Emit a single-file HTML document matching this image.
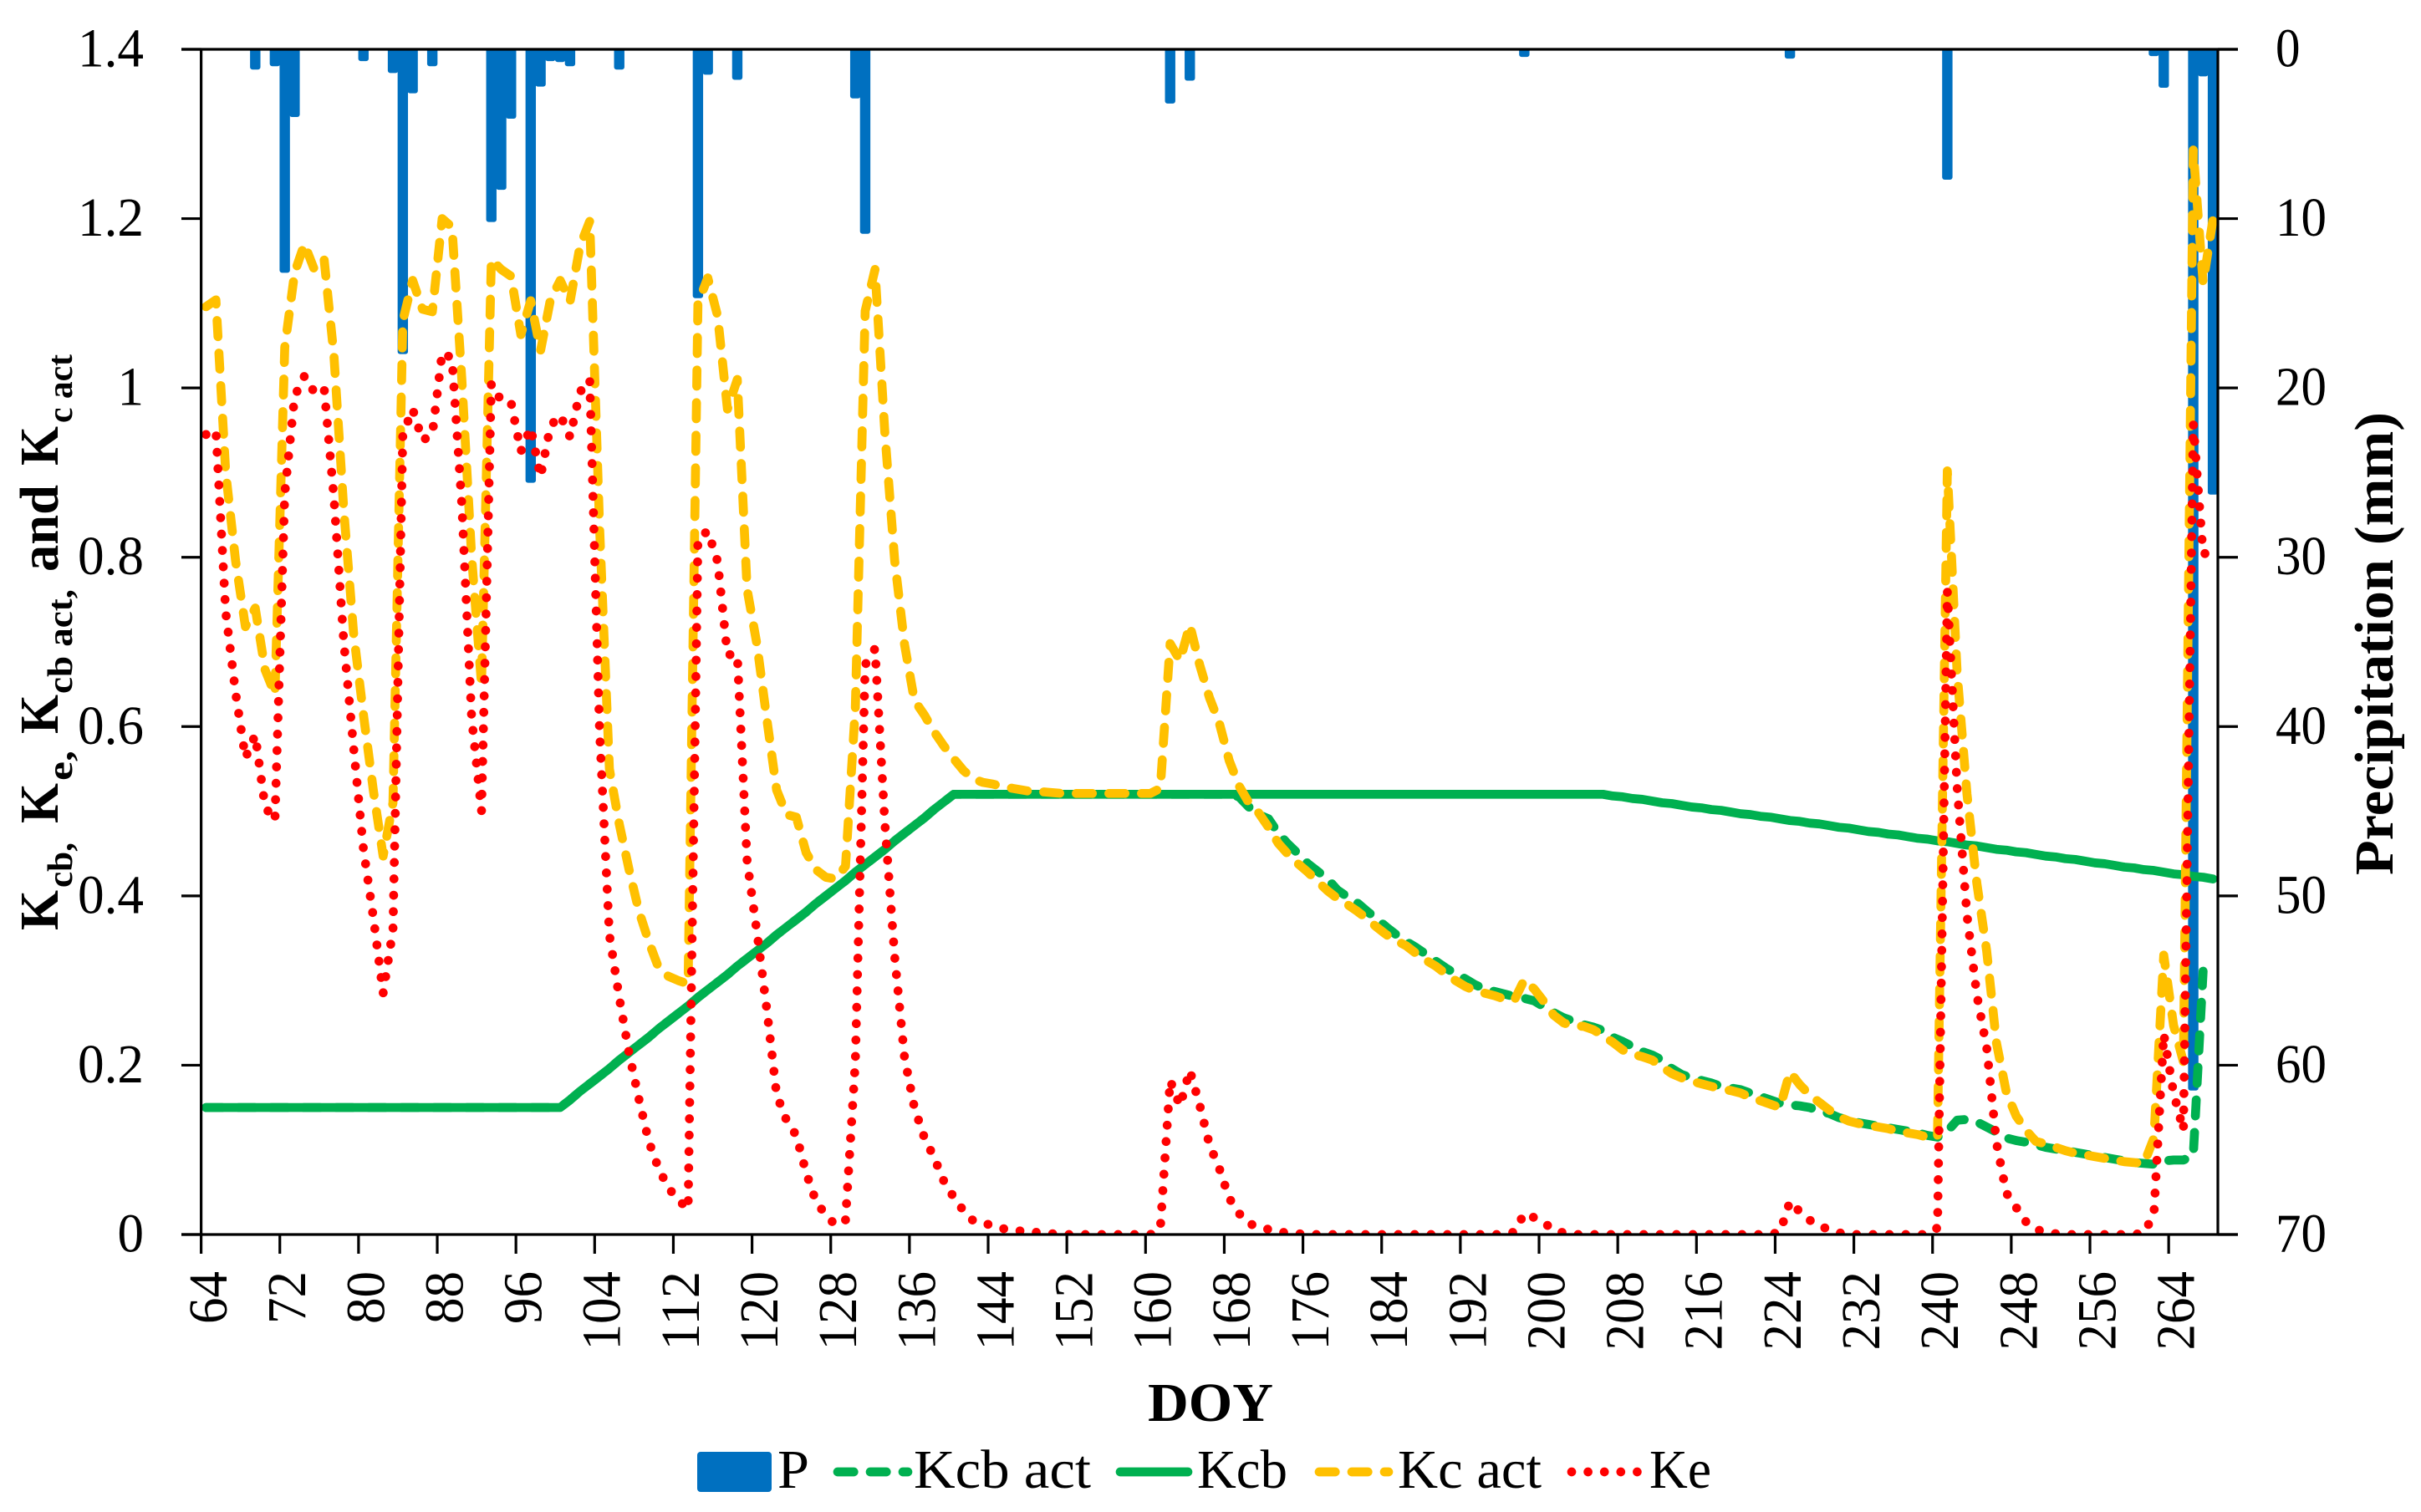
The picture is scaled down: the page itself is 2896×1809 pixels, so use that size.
<!DOCTYPE html>
<html>
<head>
<meta charset="utf-8">
<title>Kcb, Ke, Kcb act, Kc act and precipitation by DOY</title>
<style>
html,body{margin:0;padding:0;background:#fff;}
svg{display:block;}
text{font-family:"Liberation Serif",serif;fill:#000;}
</style>
</head>
<body>
<svg id="chart" xmlns="http://www.w3.org/2000/svg" width="2896" height="1809" viewBox="0 0 2896 1809">
  <rect x="0" y="0" width="2896" height="1809" fill="#fff"/>
  <defs>
    <clipPath id="plot-clip"><rect x="240" y="59" width="2414" height="1418"/></clipPath>
  </defs>
  <g id="bars" clip-path="url(#plot-clip)"></g>
  <g id="lines" clip-path="url(#plot-clip)"></g>
  <g id="axes"></g>

  <g font-weight="bold">
    <text transform="translate(69,1113) rotate(-90)" font-size="66" textLength="48" lengthAdjust="spacingAndGlyphs">K</text>
    <text transform="translate(86,1062) rotate(-90)" font-size="42" textLength="54" lengthAdjust="spacingAndGlyphs">cb,</text>
    <text transform="translate(69,985) rotate(-90)" font-size="66" textLength="48" lengthAdjust="spacingAndGlyphs">K</text>
    <text transform="translate(86,934) rotate(-90)" font-size="42" textLength="36" lengthAdjust="spacingAndGlyphs">e,</text>
    <text transform="translate(69,878) rotate(-90)" font-size="66" textLength="47" lengthAdjust="spacingAndGlyphs">K</text>
    <text transform="translate(86,830) rotate(-90)" font-size="42" textLength="125" lengthAdjust="spacingAndGlyphs">cb act,</text>
    <text transform="translate(69,684) rotate(-90)" font-size="66" textLength="104" lengthAdjust="spacingAndGlyphs">and</text>
    <text transform="translate(69,557) rotate(-90)" font-size="66" textLength="47" lengthAdjust="spacingAndGlyphs">K</text>
    <text transform="translate(86,506) rotate(-90)" font-size="42" textLength="82" lengthAdjust="spacingAndGlyphs">c act</text>
  </g>
  <text transform="translate(2862,1047) rotate(-90)" font-size="66" font-weight="bold" textLength="554" lengthAdjust="spacingAndGlyphs">Precipitation (mm)</text>
  <text x="1373" y="1700" font-size="66" font-weight="bold" textLength="150" lengthAdjust="spacingAndGlyphs">DOY</text>

  <g>
    <rect x="834" y="1737" width="89" height="48" rx="4" fill="#0070C0"/>
    <text x="930" y="1780" font-size="66" textLength="38" lengthAdjust="spacingAndGlyphs">P</text>
    <line x1="1002" y1="1761" x2="1086" y2="1761" stroke="#00B050" stroke-width="10.7" stroke-linecap="round" stroke-dasharray="19.3 19.7"/>
    <text x="1093" y="1780" font-size="66" textLength="212" lengthAdjust="spacingAndGlyphs">Kcb act</text>
    <line x1="1340" y1="1761" x2="1421" y2="1761" stroke="#00B050" stroke-width="10.7" stroke-linecap="round"/>
    <text x="1432" y="1780" font-size="66" textLength="108" lengthAdjust="spacingAndGlyphs">Kcb</text>
    <line x1="1578" y1="1761" x2="1661" y2="1761" stroke="#FFC000" stroke-width="10.7" stroke-linecap="round" stroke-dasharray="19.3 19.7"/>
    <text x="1672" y="1780" font-size="66" textLength="172" lengthAdjust="spacingAndGlyphs">Kc act</text>
    <line x1="1880" y1="1761" x2="1960" y2="1761" stroke="#FF0000" stroke-width="10.7" stroke-linecap="round" stroke-dasharray="0 19.6"/>
    <text x="1973" y="1780" font-size="66" textLength="74" lengthAdjust="spacingAndGlyphs">Ke</text>
  </g>
</svg>
<script>
const firstDoy = 64;
const lastDoy = 268;
const xTickLabels = [64,72,80,88,96,104,112,120,128,136,144,152,160,168,176,184,192,200,208,216,224,232,240,248,256,264];
const leftTickValues = [0,0.2,0.4,0.6,0.8,1,1.2,1.4];
const rightTickValues = [0,10,20,30,40,50,60,70];

const rainDays = [69,71,72,73,80,83,84,85,87,93,94,95,97,98,99,100,101,106,114,115,118,130,131,162,164,198,225,241,262,263,266,267,268];
const rainMm = [1.2,1.0,13.2,4.0,0.7,1.4,18,2.6,1.0,10.2,8.3,4.1,25.6,2.2,0.7,0.75,1.0,1.2,14.7,1.5,1.8,2.9,10.9,3.2,1.85,0.45,0.55,7.7,0.4,2.27,61.5,1.6,26.3];

const kcb = [
.15,.15,.15,.15,.15,.15,.15,.15,.15,.15,
.15,.15,.15,.15,.15,.15,.15,.15,.15,.15,
.15,.15,.15,.15,.15,.15,.15,.15,.15,.15,
.15,.15,.15,.15,.15,.15,.15,
.159,.169,.178,.187,.196,.206,.215,.224,.233,.243,
.252,.261,.270,.280,.289,.298,.307,.317,.326,.335,
.344,.354,.363,.372,.381,.391,.400,.409,.418,.428,
.437,.446,.455,.465,.474,.483,.492,.502,.511,.52,
.52,.52,.52,.52,.52,.52,.52,.52,.52,.52,
.52,.52,.52,.52,.52,.52,.52,.52,.52,.52,
.52,.52,.52,.52,.52,.52,.52,.52,.52,.52,
.52,.52,.52,.52,.52,.52,.52,.52,.52,.52,
.52,.52,.52,.52,.52,.52,.52,.52,.52,.52,
.52,.52,.52,.52,.52,.52,.52,.52,.52,.52,
.52,.52,.52,.52,.52,.52,
.518,.517,.515,.514,.512,.510,.509,.507,.505,.504,
.502,.501,.499,.497,.496,.494,.493,.491,.489,.488,
.486,.485,.483,.481,.480,.478,.476,.475,.473,.472,
.470,.468,.467,.465,.464,.462,.460,.459,.457,.455,
.454,.452,.451,.449,.447,.446,.444,.443,.441,.439,
.438,.436,.434,.433,.431,.430,.428,.426,.425,.423,
.422,.420];

const kcbAct = [
.15,.15,.15,.15,.15,.15,.15,.15,.15,.15,
.15,.15,.15,.15,.15,.15,.15,.15,.15,.15,
.15,.15,.15,.15,.15,.15,.15,.15,.15,.15,
.15,.15,.15,.15,.15,.15,.15,
.159,.169,.178,.187,.196,.206,.215,.224,.233,.243,
.252,.261,.270,.280,.289,.298,.307,.317,.326,.335,
.344,.354,.363,.372,.381,.391,.400,.409,.418,.428,
.437,.446,.455,.465,.474,.483,.492,.502,.511,.52,
.52,.52,.52,.52,.52,.52,.52,.52,.52,.52,
.52,.52,.52,.52,.52,.52,.52,.52,.52,.52,
.52,.52,.52,.52,.52,.52,.52,.52,
.517,.505,.496,.491,.474,.461,.45,.438,.429,.42,
.407,.399,.392,.382,.373,.363,.354,.346,.339,.331,
.323,.315,.308,.302,.295,.29,.287,.284,.281,.279,
.276,.269,.262,.256,.252,.248,.245,.241,.233,.228,
.222,.216,.212,.206,.196,.189,.185,.182,.179,.175,
.173,.171,.167,.163,.159,.155,.153,.152,.15,.146,
.143,.138,.135,.132,.13,.128,.126,.124,.122,.12,
.117,.115,.122,.135,.136,.133,.127,.121,.114,.111,
.109,.106,.103,.101,.099,.097,.095,.093,.091,.089,
.087,.085,.084,.083,.087,.088,.088,.093,.311];

const kcAct = [
1.096,1.104,.90,.796,.718,.74,.667,.638,1.048,1.136,
1.17,1.14,1.152,1.038,.856,.71,.614,.525,.447,.51,
1.079,1.127,1.093,1.09,1.2,1.19,1.01,.80,.65,1.152,
1.14,1.132,1.063,1.103,1.044,1.104,1.127,1.102,1.167,1.197,
.836,.55,.485,.431,.382,.346,.315,.305,.30,.296,
1.10,1.13,1.085,.975,1.01,.762,.697,.609,.525,.496,
.493,.451,.431,.422,.42,.435,.622,1.091,1.14,.947,
.796,.697,.631,.614,.594,.577,.562,.548,.538,.534,
.532,.529,.527,.525,.523,.523,.522,.521,.521,.521,
.521,.521,.521,.521,.521,.521,.521,.527,.698,.678,
.72,.673,.634,.604,.56,.53,.51,.498,.481,.462,
.449,.438,.428,.417,.406,.397,.39,.382,.373,.363,
.354,.347,.341,.332,.324,.317,.308,.30,.293,.288,
.285,.282,.278,.277,.301,.29,.275,.259,.25,.246,
.246,.242,.235,.227,.218,.213,.21,.206,.198,.19,
.185,.181,.178,.175,.172,.17,.167,.162,.158,.154,
.15,.192,.177,.165,.156,.147,.139,.134,.131,.129,
.127,.125,.122,.12,.118,.115,.115,.902,.663,.52,
.415,.335,.226,.168,.14,.123,.11,.107,.103,.099,
.096,.094,.092,.09,.088,.086,.085,.084,.114,.33,
.247,.204,1.281,1.124,1.199];

const ke = [
.945,.95,.735,.64,.563,.59,.505,.489,.875,.99,
1.014,.995,1.0,.87,.70,.575,.455,.375,.285,.36,
.945,.975,.938,.945,1.042,1.035,.862,.61,.50,1.005,
.985,.983,.925,.953,.895,.955,.968,.942,.995,1.01,
.595,.354,.28,.214,.16,.11,.078,.055,.041,.03,
.822,.831,.795,.685,.685,.441,.357,.266,.165,.135,
.117,.073,.039,.023,.011,.017,.204,.673,.692,.486,
.328,.209,.15,.115,.091,.063,.044,.028,.016,.013,
.011,.007,.005,.004,.003,.002,.001,0,0,0,
0,0,0,0,0,0,0,.007,.182,.152,
.194,.153,.106,.078,.043,.025,.013,.009,.006,.003,
.002,.001,0,0,0,0,0,0,0,0,
0,0,0,0,0,0,0,0,0,0,
0,0,0,.003,.025,.02,.014,.005,.002,0,
0,0,0,0,0,0,0,0,0,0,
0,0,0,0,0,0,0,0,0,0,
.003,.039,.027,.017,.01,.006,.002,0,0,0,
0,0,0,0,0,0,.008,.76,.528,.377,
.283,.221,.108,.049,.032,.015,.006,.003,.001,0,
0,0,0,0,0,0,0,.002,.024,.237,
.167,.123,.958,.804,.806];

const plotLeft = 240.6, plotRight = 2653, plotTop = 59, plotBottom = 1477;
const kMax = 1.4, pMax = 70;
const dayWidth = (plotRight - plotLeft) / (lastDoy - firstDoy + 1);
const NS = 'http://www.w3.org/2000/svg';

function xCenter(doy){ return plotLeft + (doy - firstDoy + 0.5) * dayWidth; }
function xEdge(doy){ return plotLeft + (doy - firstDoy) * dayWidth; }
function yK(v){ return plotBottom - v / kMax * (plotBottom - plotTop); }
function yP(v){ return plotTop + v / pMax * (plotBottom - plotTop); }
function make(tag, attrs){
  const el = document.createElementNS(NS, tag);
  for (const k in attrs) el.setAttribute(k, attrs[k]);
  return el;
}
function linePath(values){
  return values.map(function(v, i){
    return (i ? 'L' : 'M') + xCenter(firstDoy + i).toFixed(2) + ' ' + yK(v).toFixed(2);
  }).join('');
}
function labelLength(s){
  let w = 0;
  for (const c of s) w += (c === '.') ? 16 : 31.5;
  return w;
}

const barsG = document.getElementById('bars');
rainDays.forEach(function(d, i){
  const cx = xCenter(d);
  const bar = make('rect', {x: (cx - 6.2).toFixed(2), y: plotTop - 8, width: 12.4, height: (yP(rainMm[i]) - plotTop + 8).toFixed(2), rx: 3, fill: '#0070C0'});
  
  
  barsG.appendChild(bar);
});

const linesG = document.getElementById('lines');
const kcbActLine = make('path', {d: linePath(kcbAct), fill: 'none', stroke: '#00B050', 'stroke-width': 10.7, 'stroke-linecap': 'round', 'stroke-linejoin': 'round', 'stroke-dasharray': '19.3 19.7'});


linesG.appendChild(kcbActLine);
const kcbLine = make('path', {d: linePath(kcb), fill: 'none', stroke: '#00B050', 'stroke-width': 10.7, 'stroke-linecap': 'round', 'stroke-linejoin': 'round'});


linesG.appendChild(kcbLine);
const kcActLine = make('path', {d: linePath(kcAct), fill: 'none', stroke: '#FFC000', 'stroke-width': 10.7, 'stroke-linecap': 'round', 'stroke-linejoin': 'round', 'stroke-dasharray': '19.3 19.7'});


linesG.appendChild(kcActLine);
const keLine = make('path', {d: linePath(ke), fill: 'none', stroke: '#FF0000', 'stroke-width': 10.7, 'stroke-linecap': 'round', 'stroke-linejoin': 'round', 'stroke-dasharray': '0 19.6'});


linesG.appendChild(keLine);

const axesG = document.getElementById('axes');
function axisLine(x1, y1, x2, y2, name){
  const l = make('line', {x1: x1, y1: y1, x2: x2, y2: y2, stroke: '#000', 'stroke-width': 3.2});
  
  
  axesG.appendChild(l);
}
axisLine(plotLeft, plotTop, plotLeft, plotBottom, 'left-axis-line');
axisLine(plotRight, plotTop, plotRight, plotBottom, 'right-axis-line');
axisLine(217, plotBottom, 2677, plotBottom, 'bottom-axis-line');
axisLine(217, plotTop, 2677, plotTop, 'top-axis-line');

leftTickValues.forEach(function(v){
  const y = yK(v);
  axisLine(217, y, plotLeft, y, 'left-axis-tick');
  const s = String(v);
  const t = make('text', {x: 172, y: (y + 20.5).toFixed(2), 'font-size': 66, 'text-anchor': 'end', textLength: labelLength(s), lengthAdjust: 'spacingAndGlyphs'});
  t.textContent = s;
  
  
  axesG.appendChild(t);
});

rightTickValues.forEach(function(v){
  const y = yP(v);
  axisLine(plotRight, y, 2677, y, 'right-axis-tick');
  const s = String(v);
  const t = make('text', {x: 2722, y: (y + 20.5).toFixed(2), 'font-size': 66, textLength: labelLength(s) - 2, lengthAdjust: 'spacingAndGlyphs'});
  t.textContent = s;
  
  
  axesG.appendChild(t);
});

xTickLabels.forEach(function(d){
  const xe = xEdge(d);
  axisLine(xe, plotBottom, xe, 1500, 'x-axis-tick');
  const s = String(d);
  const bx = xCenter(d) + 24.5;
  const t = make('text', {transform: 'translate(' + bx.toFixed(2) + ',1521) rotate(-90)', 'font-size': 66, 'text-anchor': 'end', textLength: s.length * 31.5, lengthAdjust: 'spacingAndGlyphs'});
  t.textContent = s;
  
  
  axesG.appendChild(t);
});
</script>
</body>
</html>
